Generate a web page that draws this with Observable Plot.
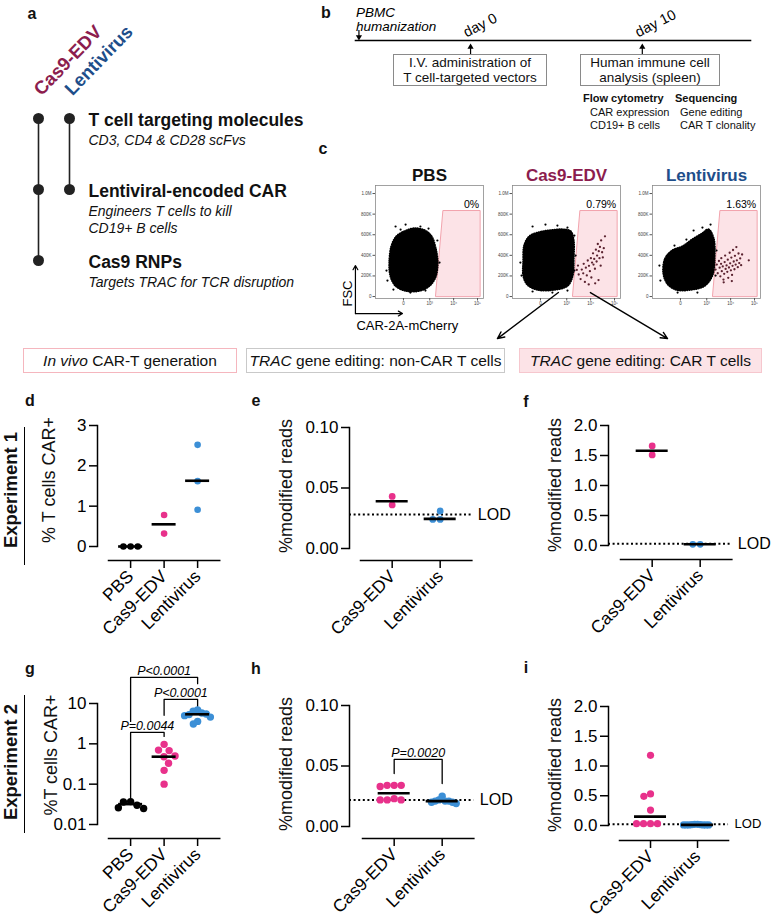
<!DOCTYPE html>
<html><head><meta charset="utf-8">
<script src="https://cdn.jsdelivr.net/npm/d3@7"></script>
<script src="https://cdn.jsdelivr.net/npm/@observablehq/plot@0.6"></script>
<style>
body{margin:0;background:#fff;}
#root{position:relative;width:773px;height:921px;overflow:hidden;font-family:"Liberation Sans",Arial,Helvetica,sans-serif;color:#111;background:#fff;}
.t{position:absolute;white-space:nowrap;line-height:1;}
.box{position:absolute;box-sizing:border-box;display:flex;flex-direction:column;align-items:center;justify-content:center;text-align:center;white-space:nowrap;}
</style></head><body><div id="root"></div>
<script>
// ================= DATA =================
// panel a
const components = ["T cell targeting molecules", "Lentiviral-encoded CAR", "Cas9 RNPs"];
const componentNotes = ["CD3, CD4 & CD28 scFvs", "Engineers T cells to kill\nCD19+ B cells", "Targets TRAC for TCR disruption"];
const vectors = ["Cas9-EDV", "Lentivirus"];
const cas9EdvComponents = ["T cell targeting molecules", "Lentiviral-encoded CAR", "Cas9 RNPs"];
const lentivirusComponents = ["T cell targeting molecules", "Lentiviral-encoded CAR"];

// panel b
const timelineEvents = ["PBMC humanization", "day 0", "day 10"];
const timelineDays = [-6.5, 0, 10];
const timelineBoxes = [["I.V. administration of", "T cell-targeted vectors"], ["Human immune cell", "analysis (spleen)"]];
const flowReadouts = ["CAR expression", "CD19+ B cells"];
const seqReadouts = ["Gene editing", "CAR T clonality"];

// panel c (x: biexponential decades, y: FSC in thousands)
const flowSamples = ["PBS", "Cas9-EDV", "Lentivirus"];
const flowPercents = ["0%", "0.79%", "1.63%"];
const flowXTicks = [1.9, 3, 4, 5];
const flowXTickLabels = ["0", "10³", "10⁴", "10⁵"];
const flowYTicks = [0, 200, 400, 600, 800, 1000];
const flowYTickLabels = ["0", "200K", "400K", "600K", "800K", "1.0M"];
const carGate = [[3.24, 3], [3.55, 835], [5.11, 835], [5.11, 3]];
const cloudPBS = [[1.32,330],[1.40,485],[1.61,583],[1.94,631],[2.36,660],[2.78,641],[3.07,583],[3.24,466],[3.32,330],[3.24,194],[2.99,107],[2.57,58],[1.99,58],[1.57,107],[1.36,204]];
const cloudCas9 = [[1.19,330],[1.23,495],[1.44,583],[1.82,621],[2.32,641],[2.82,650],[3.16,631],[3.28,544],[3.28,369],[3.24,204],[3.03,107],[2.49,68],[1.78,68],[1.36,117],[1.19,204]];
const cloudLenti = [[1.19,233],[1.27,369],[1.57,447],[1.99,485],[2.40,553],[2.82,612],[3.07,650],[3.28,563],[3.32,388],[3.24,214],[2.91,107],[2.32,68],[1.73,68],[1.36,126]];
const specklesPBS = [[1.57,680],[1.99,699],[2.61,680],[2.95,660],[3.32,544],[3.41,330],[1.19,252],[1.23,155],[1.48,68],[2.19,39],[2.82,58],[1.78,650]];
const specklesCas9 = [[1.57,680],[2.11,699],[2.61,689],[3.03,670],[3.32,592],[1.06,330],[1.11,204],[1.57,49],[2.40,39],[3.03,58],[3.37,398],[3.32,252]];
const specklesLenti = [[2.82,670],[3.16,699],[2.45,641],[1.02,301],[1.06,155],[1.78,39],[2.61,39],[3.41,447],[3.37,204],[1.65,495],[2.15,553]];
const carPosPBS = [];
const carPosCas9 = [[3.42,258],[3.50,214],[3.47,301],[3.63,262],[3.58,170],[3.71,318],[3.69,225],[3.80,280],[3.76,142],[3.88,350],[3.84,205],[3.93,298],[4.01,372],[3.97,246],[4.06,330],[4.10,420],[4.03,185],[4.15,365],[4.18,270],[4.22,455],[4.12,310],[4.27,398],[4.30,510],[4.25,340],[4.34,440],[4.39,482],[4.37,372],[4.44,545],[4.48,430],[4.42,300],[4.55,470],[4.60,585],[4.33,160],[4.19,128],[3.92,118],[4.51,380]];
const carPosLenti = [[3.37,262],[3.42,310],[3.46,226],[3.51,345],[3.54,280],[3.57,196],[3.60,318],[3.63,246],[3.61,372],[3.67,292],[3.70,165],[3.73,221],[3.75,335],[3.79,268],[3.77,398],[3.83,302],[3.86,240],[3.88,358],[3.90,182],[3.93,282],[3.96,425],[3.98,322],[4.01,255],[4.03,378],[4.06,210],[4.08,298],[4.10,452],[4.13,340],[4.16,265],[4.18,395],[4.21,310],[4.24,480],[4.26,352],[4.30,285],[4.33,418],[4.36,325],[4.40,370],[4.44,305],[4.48,408],[4.76,352],[3.71,138],[4.05,150]];
const fscArrow = [[-0.11, -165], [-0.11, 301]];
const mcherryArrow = [[-0.11, -165], [1.86, -165]];
const splitArrows = [[[2.65, 39], [0.10, -408]], [[3.99, 39], [7.22, -408]]];

// analysis headers
const analysisBoxes = ["<i>In vivo</i> CAR-T generation", "<i>TRAC</i> gene editing: non-CAR T cells", "<i>TRAC</i> gene editing: CAR T cells"];

// d: experiment 1, % T cells CAR+
const catsD = ["PBS", "Cas9-EDV", "Lentivirus"];
const pbsD = [0, 0, 0];
const cas9D = [0.78, 0.32];
const lentiD = [2.52, 1.62, 0.91];
const centersD = [0, 0.55, 1.63];
// e: experiment 1, non-CAR T cells
const catsE = ["Cas9-EDV", "Lentivirus"];
const cas9E = [0.043, 0.036];
const lentiE = [0.031, 0.024, 0.024];
const centersE = [0.039, 0.0245];
const lodE = 0.028;
// f: experiment 1, CAR T cells
const cas9F = [1.66, 1.51];
const lentiF = [0.02, 0.02];
const centersF = [1.58, 0.02];
const lodF = 0.028;
// g: experiment 2, % T cells CAR+
const pbsG = [0.037, 0.036, 0.030, 0.026, 0.025];
const cas9G = [0.97, 0.70, 0.68, 0.50, 0.48, 0.33, 0.22, 0.10];
const lentiG = [6.9, 6.4, 5.8, 5.5, 5.3, 5.0, 4.6, 3.6, 3.1];
const centersG = [0.032, 0.48, 5.4];
const bracketsG = [
  {a: "PBS", b: "Lentivirus", y: 44.5, ya: 3.6, yb: 31, label: "P<0.0001"},
  {a: "Cas9-EDV", b: "Lentivirus", y: 12.6, ya: 5.1, yb: 8.5, label: "P<0.0001"},
  {a: "PBS", b: "Cas9-EDV", y: 1.92, ya: 0.045, yb: 1.53, label: "P=0.0044"}
];
// h: experiment 2, non-CAR T cells
const cas9H = [0.034, 0.034, 0.034, 0.033, 0.022, 0.022, 0.022, 0.023];
const lentiH = [0.025, 0.022, 0.021, 0.021, 0.021, 0.020, 0.020, 0.019];
const centersH = [0.0275, 0.021];
const lodH = 0.022;
const bracketsH = [{a: "Cas9-EDV", b: "Lentivirus", y: 0.0554, ya: 0.0438, yb: 0.0355, label: "P=0.0020"}];
// i: experiment 2, CAR T cells
const cas9I = [1.18, 0.53, 0.49, 0.26, 0.03, 0.03, 0.03, 0.03];
const lentiI = [0.02, 0.02, 0.015, 0.01, 0.01, 0.01, 0.01, 0.01, 0.015, 0.01];
const centersI = [0.15, 0.01];
const lodI = 0.022;

// ================= STYLE / LAYOUT =================
const FONT = '"Liberation Sans", Arial, Helvetica, sans-serif';
const vectorColor = {"Cas9-EDV": "#8C1D4E", "Lentivirus": "#1E4E8A", "PBS": "#111"};
const dotColor = {"PBS": "#000000", "Cas9-EDV": "#E8318B", "Lentivirus": "#3C8FD6"};
const root = document.getElementById("root");
const svgStyle = {background: "transparent", overflow: "visible", fontFamily: FONT, color: "#000"};

function put(el, left, top) {
  el.style.position = "absolute"; el.style.left = left + "px"; el.style.top = top + "px";
  root.appendChild(el); return el;
}
function label(html, x, y, css, anchor = "center", rotate = 0) {
  const d = document.createElement("div");
  d.className = "t"; d.innerHTML = html;
  d.style.left = x + "px"; d.style.top = y + "px";
  const tx = anchor === "center" ? "-50%" : "0";
  d.style.transform = `translate(${tx},-50%)` + (rotate ? ` rotate(${rotate}deg)` : "");
  Object.assign(d.style, css);
  root.appendChild(d); return d;
}

// ---- panel letters ----
[["a",32,14],["b",326,13],["c",323,149],["d",30,401],["e",256,401],["f",526,402],["g",30,669],["h",256,669],["i",526,668]]
  .forEach(([l,x,y]) => label(l, x, y, {fontWeight: "bold", fontSize: "16px"}));

// ================= PANEL a =================
const aRows = [
  ...cas9EdvComponents.map(c => ({vector: "Cas9-EDV", component: c})),
  ...lentivirusComponents.map(c => ({vector: "Lentivirus", component: c}))
];
put(Plot.plot({
  width: 330, height: 300, margin: 0, style: svgStyle,
  x: {type: "point", domain: vectors, range: [38, 69], padding: 0, axis: null},
  y: {type: "point", domain: components, range: [117, 260], padding: 0, axis: null},
  marks: [
    Plot.line(aRows, {x: "vector", y: "component", z: "vector", stroke: "#222", strokeWidth: 1.6}),
    Plot.dot(aRows, {x: "vector", y: "component", r: 5.5, fill: "#222"}),
    Plot.text(components, {y: d => d, frameAnchor: "left", dx: 88, dy: 2, textAnchor: "start", text: d => d, fontWeight: "bold", fontSize: 17.5, fill: "#111"}),
    Plot.text(components, {y: d => d, frameAnchor: "left", dx: 88, dy: 14, textAnchor: "start", lineAnchor: "top", text: (d, i) => componentNotes[i], fontStyle: "italic", fontSize: 14, lineHeight: 1.25, fill: "#111"}),
    Plot.text(vectors, {x: d => d, frameAnchor: "top", dy: 96, dx: 3, rotate: -46, textAnchor: "start", lineAnchor: "bottom", text: d => d, fill: d => vectorColor[d], fontWeight: "bold", fontSize: 18.5})
  ]
}), 0, 0);

// ================= PANEL b =================
const tl = timelineEvents.map((e, i) => ({event: e, day: timelineDays[i]}));
put(Plot.plot({
  width: 443, height: 150, marginLeft: 25, marginRight: 23, marginTop: 40, marginBottom: 10, style: svgStyle,
  x: {domain: [-6.7, 16.3], axis: null},
  marks: [
    Plot.frame({anchor: "top", strokeWidth: 1.6}),
    Plot.ruleX(tl.slice(0, 1), {x: "day", insetTop: -10, insetBottom: 102, strokeWidth: 1.2}),
    Plot.dot(tl.slice(0, 1), {x: "day", frameAnchor: "top", dy: -3.5, symbol: "triangle", r: 2.3, rotate: 180, fill: "#000"}),
    Plot.ruleX(tl.slice(1), {x: "day", insetTop: 5, insetBottom: 86, strokeWidth: 1.2}),
    Plot.dot(tl.slice(1), {x: "day", frameAnchor: "top", dy: 6.5, symbol: "triangle", r: 2.3, fill: "#000"}),
    Plot.text(tl.slice(0, 1), {x: "day", frameAnchor: "top", dy: -10, dx: -3, textAnchor: "start", lineAnchor: "bottom", text: d => d.event.replace(" ", "\n"), fontStyle: "italic", fontSize: 13.5, lineHeight: 1.02}),
    Plot.text(tl.slice(1), {x: "day", frameAnchor: "top", dy: -3, dx: -4, rotate: -27, textAnchor: "start", lineAnchor: "bottom", text: "event", fontSize: 14.5})
  ]
}), 330, 0);
[[393, 154], [580, 140]].forEach(([l, w], i) => {
  const b = document.createElement("div");
  b.className = "box";
  b.innerHTML = timelineBoxes[i].map(s => `<div style="line-height:15.5px;height:15.5px">${s}</div>`).join("");
  Object.assign(b.style, {left: l + "px", top: "54px", width: w + "px", height: "32px", border: "1.3px solid #8a8a8a", fontSize: "13.5px", background: "#fff"});
  root.appendChild(b);
});
label("Flow cytometry", 583, 98, {fontWeight: "bold", fontSize: "11px"}, "left");
label("Sequencing", 675, 98, {fontWeight: "bold", fontSize: "11px"}, "left");
flowReadouts.forEach((t, i) => label(t, 590, 112 + 13 * i, {fontSize: "11px"}, "left"));
seqReadouts.forEach((t, i) => label(t, 680, 112 + 13 * i, {fontSize: "11px"}, "left"));

// ================= PANEL c =================
function flowPlot(k, frameLeft, cloud, speckles, pos, extras) {
  const gateTR = carGate[2];
  const svg = Plot.plot({
    width: 133, height: 172, marginLeft: 20, marginRight: 5, marginTop: 25, marginBottom: 34, style: svgStyle,
    x: {domain: [0.73, 5.25]},
    y: {domain: [-19, 1078]},
    marks: [
      Plot.line(carGate, {x: d => d[0], y: d => d[1], curve: "linear-closed", fill: "#FCE3E7", stroke: "#F2A3AD", strokeWidth: 1}),
      Plot.line(cloud, {x: d => d[0], y: d => d[1], curve: "catmull-rom-closed", fill: "#000", stroke: "#000", strokeWidth: 2.6, strokeDasharray: "0.1,2.2", strokeLinecap: "round"}),
      Plot.dot(speckles, {x: d => d[0], y: d => d[1], r: 1.1, fill: "#000"}),
      Plot.dot(pos, {x: d => d[0], y: d => d[1], r: 1.15, fill: "#5B2330"}),
      Plot.frame({stroke: "#8a8a8a", strokeWidth: 0.8}),
      Plot.axisY({ticks: flowYTicks, tickFormat: d => flowYTickLabels[flowYTicks.indexOf(d)], fontSize: 4.5, tickSize: 2.5, tickPadding: 1.5, label: null, stroke: "#555", fill: "#444"}),
      Plot.axisX({ticks: flowXTicks, tickFormat: d => flowXTickLabels[flowXTicks.indexOf(d)], fontSize: 4.5, tickSize: 2.5, tickPadding: 1, label: null, stroke: "#555", fill: "#444"}),
      Plot.text([flowSamples[k]], {frameAnchor: "top", dy: -5, lineAnchor: "bottom", text: d => d, fontSize: 17, fontWeight: "bold", fill: vectorColor[flowSamples[k]]}),
      Plot.text([flowPercents[k]], {x: () => gateTR[0], y: () => gateTR[1], dy: -3, dx: -1, textAnchor: "end", lineAnchor: "bottom", text: d => d, fontSize: 10.5}),
      ...extras
    ]
  });
  return put(svg, frameLeft - 20, 160);
}
flowPlot(0, 375, cloudPBS, specklesPBS, carPosPBS, [
  Plot.arrow([0], {x1: () => fscArrow[0][0], y1: () => fscArrow[0][1], x2: () => fscArrow[1][0], y2: () => fscArrow[1][1], headLength: 6, strokeWidth: 1.2}),
  Plot.arrow([0], {x1: () => mcherryArrow[0][0], y1: () => mcherryArrow[0][1], x2: () => mcherryArrow[1][0], y2: () => mcherryArrow[1][1], headLength: 6, strokeWidth: 1.2}),
  Plot.text(["FSC"], {x: () => -0.42, y: () => 29, rotate: -90, text: d => d, fontSize: 13}),
  Plot.text(["CAR-2A-mCherry"], {x: () => -0.07, y: () => -285, textAnchor: "start", text: d => d, fontSize: 13})
]);
flowPlot(1, 512, cloudCas9, specklesCas9, carPosCas9, [
  Plot.arrow(splitArrows, {x1: d => d[0][0], y1: d => d[0][1], x2: d => d[1][0], y2: d => d[1][1], headLength: 8, headAngle: 50, strokeWidth: 1.4})
]);
flowPlot(2, 652, cloudLenti, specklesLenti, carPosLenti, []);

// ---- analysis header boxes ----
[[23, 214, "#F5B6BE", "#fff"], [246, 259, "#C9C9C9", "#fff"], [519, 243, "#F6C7CE", "#FCE3E7"]].forEach(([l, w, bc, bg], i) => {
  const b = document.createElement("div");
  b.className = "box"; b.innerHTML = `<span>${analysisBoxes[i]}</span>`;
  Object.assign(b.style, {left: l + "px", top: "348px", width: w + "px", height: "25px", border: `1.5px solid ${bc}`, background: bg, fontSize: "15.5px"});
  root.appendChild(b);
});

// ---- experiment labels ----
[["Experiment 1", 490, 427], ["Experiment 2", 762, 695]].forEach(([t, cy, lt]) => {
  label(t, 11, cy, {fontWeight: "bold", fontSize: "18.5px"}, "center", -90);
  const ln = document.createElement("div");
  Object.assign(ln.style, {position: "absolute", left: "24px", top: lt + "px", width: "0", height: "138px", borderLeft: "1.5px solid #000"});
  root.appendChild(ln);
});

// ================= scatter panels =================
function swarm(ys, diam, maxHalf) {
  const n = ys.length, order = d3.range(n).sort((a, b) => ys[a] - ys[b]), xs = new Array(n), placed = [];
  for (const i of order) {
    const y = ys[i], ivs = [], cands = [0];
    for (const p of placed) {
      const dy = y - p.y;
      if (Math.abs(dy) < diam) { const w = Math.sqrt(diam * diam - dy * dy); ivs.push([p.x - w, p.x + w]); cands.push(p.x - w, p.x + w); }
    }
    cands.sort((a, b) => Math.abs(a) - Math.abs(b) || a - b);
    const x = cands.find(c => ivs.every(([a, b]) => c <= a + 1e-6 || c >= b - 1e-6));
    xs[i] = x; placed.push({x, y});
  }
  const m = d3.max(xs, Math.abs);
  if (m > maxHalf) for (let i = 0; i < n; i++) xs[i] *= maxHalf / m;
  return xs;
}

function scatterPanel(c) {
  const n = c.cats.length, pad = 0.66;
  const rangeEnd = c.rangeStart + (n - 1 + 2 * pad) * c.step;
  const ml = c.axisX - c.L, mr = c.W - (rangeEnd - c.L), mt = c.yTop - c.T, mb = c.H - (c.xAxisY - c.T);
  const insetLeft = c.rangeStart - c.axisX, insetBottom = c.xAxisY - c.yBottom;
  const ys = (c.yType === "log" ? d3.scaleLog() : d3.scaleLinear()).domain(c.yDomain).range([c.yBottom, c.yTop]);
  const pts = [];
  c.groups.forEach((vals, i) => {
    const offs = swarm(vals.map(v => ys(v)), 2 * c.r + 0.6, c.maxHalf);
    vals.forEach((v, k) => pts.push({x: i + offs[k] / c.step, v, color: dotColor[c.cats[i]]}));
  });
  const idx = name => c.cats.indexOf(name);
  const bracketPath = (c.brackets || []).flatMap((b, k) => [
    {k, x: idx(b.a), y: b.ya}, {k, x: idx(b.a), y: b.y}, {k, x: idx(b.b), y: b.y}, {k, x: idx(b.b), y: b.yb}
  ]);
  const marks = [
    Plot.frame({anchor: "left", insetBottom, strokeWidth: 1.5}),
    Plot.frame({anchor: "bottom", insetLeft, strokeWidth: 1.5}),
    Plot.axisY({ticks: c.yTicks, tickFormat: c.yFormat, tickSize: 8, tickPadding: 3, fontSize: 17, label: null, strokeWidth: 1.5}),
    Plot.axisX({ticks: d3.range(n), tickFormat: i => c.cats[i], tickRotate: -45, tickSize: 8, tickPadding: 5, fontSize: 17.5, label: null, strokeWidth: 1.5})
  ];
  if (c.lod != null) {
    marks.push(Plot.ruleY([c.lod], {y: d => d, strokeDasharray: "2,2.6", strokeWidth: 2}));
    marks.push(Plot.text([c.lod], {y: d => d, frameAnchor: "right", dx: 6, textAnchor: "start", text: () => "LOD", fontSize: c.lodFont || 16}));
  }
  if (c.brackets) {
    marks.push(Plot.line(bracketPath, {x: "x", y: "y", z: "k", strokeWidth: 1.3, stroke: "#000"}));
    marks.push(Plot.text(c.brackets, {x: d => (idx(d.a) + idx(d.b)) / 2, y: "y", text: "label", dy: -2, lineAnchor: "bottom", fontStyle: "italic", fontSize: 12.5}));
  }
  marks.push(Plot.dot(pts, {x: "x", y: "v", r: c.r, fill: "color"}));
  marks.push(Plot.ruleY(c.centers.map((v, i) => ({i, v})), {y: "v", x1: d => d.i - c.barHalf / c.step, x2: d => d.i + c.barHalf / c.step, strokeWidth: 2.6, stroke: "#000"}));
  put(Plot.plot({
    width: c.W, height: c.H, marginLeft: ml, marginRight: mr, marginTop: mt, marginBottom: mb, style: svgStyle,
    x: {type: "linear", domain: [-pad, n - 1 + pad], insetLeft},
    y: {type: c.yType, domain: c.yDomain, insetBottom},
    color: {type: "identity"},
    marks
  }), c.L, c.T);
  label(c.yLabel, c.labelX, c.labelY, {fontSize: "18px"}, "center", -90);
}

const lin2 = d3.format(".2f"), lin1 = d3.format(".1f");
scatterPanel({L: 0, T: 395, W: 250, H: 265, axisX: 97, rangeStart: 108, step: 33.5, yTop: 425, yBottom: 546, xAxisY: 560,
  cats: catsD, groups: [pbsD, cas9D, lentiD], centers: centersD, yType: "linear", yDomain: [0, 3], yTicks: [0, 1, 2, 3], yFormat: d => String(d),
  yLabel: "% T cells CAR+", labelX: 49, labelY: 480, r: 3.3, maxHalf: 13, barHalf: 12});
scatterPanel({L: 255, T: 395, W: 265, H: 265, axisX: 349, rangeStart: 360, step: 48, yTop: 427, yBottom: 548, xAxisY: 560,
  cats: catsE, groups: [cas9E, lentiE], centers: centersE, yType: "linear", yDomain: [0, 0.1], yTicks: [0, 0.05, 0.1], yFormat: lin2,
  yLabel: "%modified reads", labelX: 286, labelY: 486, lod: lodE, r: 3.4, maxHalf: 14, barHalf: 16});
scatterPanel({L: 513, T: 395, W: 260, H: 265, axisX: 608, rangeStart: 620, step: 48, yTop: 425, yBottom: 545, xAxisY: 559,
  cats: catsE, groups: [cas9F, lentiF], centers: centersF, yType: "linear", yDomain: [0, 2], yTicks: [0, 0.5, 1, 1.5, 2], yFormat: lin1,
  yLabel: "%modified reads", labelX: 555, labelY: 485, lod: lodF, r: 3.4, maxHalf: 14, barHalf: 16});
scatterPanel({L: 0, T: 655, W: 250, H: 266, axisX: 97, rangeStart: 108, step: 33.5, yTop: 703, yBottom: 824, xAxisY: 838,
  cats: catsD, groups: [pbsG, cas9G, lentiG], centers: centersG, yType: "log", yDomain: [0.01, 10], yTicks: [0.01, 0.1, 1, 10], yFormat: d => String(d),
  yLabel: "%T cells CAR+", labelX: 51, labelY: 755, brackets: bracketsG, r: 3.7, maxHalf: 13, barHalf: 12});
scatterPanel({L: 255, T: 655, W: 265, H: 266, axisX: 349, rangeStart: 362, step: 48, yTop: 705, yBottom: 826, xAxisY: 838,
  cats: catsE, groups: [cas9H, lentiH], centers: centersH, yType: "linear", yDomain: [0, 0.1], yTicks: [0, 0.05, 0.1], yFormat: lin2,
  yLabel: "%modified reads", labelX: 286, labelY: 764, lod: lodH, brackets: bracketsH, r: 3.7, maxHalf: 14, barHalf: 16});
scatterPanel({L: 513, T: 655, W: 260, H: 266, axisX: 608, rangeStart: 619, step: 47, yTop: 706, yBottom: 825, xAxisY: 840,
  cats: catsE, groups: [cas9I, lentiI], centers: centersI, yType: "linear", yDomain: [0, 2], yTicks: [0, 0.5, 1, 1.5, 2], yFormat: lin1,
  yLabel: "%modified reads", labelX: 555, labelY: 765, lod: lodI, lodFont: 13, r: 3.6, maxHalf: 14, barHalf: 16});
</script></body></html>
